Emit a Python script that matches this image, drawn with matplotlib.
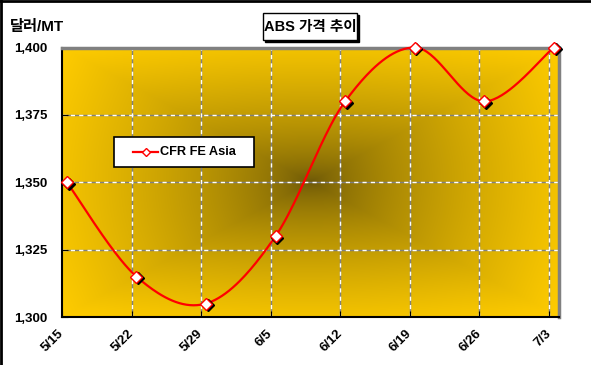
import numpy as np
import matplotlib
matplotlib.use('Agg')
import matplotlib.pyplot as plt
from matplotlib.patches import Rectangle
from matplotlib.lines import Line2D
import matplotlib.transforms as mtransforms

# ---- data ----
dates = ['5/15', '5/22', '5/29', '6/5', '6/12', '6/19', '6/26', '7/3']
prices = [1350, 1315, 1305, 1330, 1380, 1400, 1380, 1400]
series_name = 'CFR FE Asia'
title_text = 'ABS 가격 추이'
y_label = '달러/MT'
y_ticks = [1300, 1325, 1350, 1375, 1400]

W, H = 591, 365
FONT = ['Liberation Sans', 'Noto Sans CJK KR', 'DejaVu Sans']
plt.rcParams['font.family'] = FONT

fig = plt.figure(figsize=(W / 100, H / 100), dpi=100)
fig.patch.set_facecolor('white')


def fx(x):
    return x / W


def fy(y):
    return 1 - y / H


ax = fig.add_axes([fx(62), fy(317), (558.7 - 62) / W, (317 - 47.5) / H])

# background gradient (rectangular "from center")
gh, gw = 300, 500
u = np.linspace(-1, 1, gw)[None, :]
v = np.linspace(-1, 1, gh)[:, None]
t_rect = np.maximum(np.abs(u), np.abs(v))
t_round = np.sqrt(u ** 2 + v ** 2) / np.sqrt(2)
t = np.clip(0.6 * t_rect + 0.4 * t_round, 0, 1) ** 0.65
edge = np.array([255, 204, 0]) / 255
center = np.array([104, 84, 8]) / 255
img = center[None, None, :] * (1 - t[..., None]) + edge[None, None, :] * t[..., None]
ax.imshow(img, extent=(0, 1, 0, 1), transform=ax.transAxes, aspect='auto',
          zorder=0, interpolation='bilinear')

x_offset = 0.07
xs = np.arange(len(dates)) + x_offset
ys = np.array(prices, dtype=float)


def smooth(xv, yv, n=40):
    P = np.column_stack([xv, yv])
    out = []
    for i in range(len(P) - 1):
        p0 = P[i - 1] if i > 0 else P[i]
        p1 = P[i]
        p2 = P[i + 1]
        p3 = P[i + 2] if i + 2 < len(P) else P[i + 1]
        c1 = p1 + (p2 - p0) / 6
        c2 = p2 - (p3 - p1) / 6
        tt = np.linspace(0, 1, n)[:, None]
        seg = (1 - tt) ** 3 * p1 + 3 * (1 - tt) ** 2 * tt * c1 + 3 * (1 - tt) * tt ** 2 * c2 + tt ** 3 * p2
        out.append(seg if i == 0 else seg[1:])
    return np.vstack(out)


curve = smooth(xs, ys)

ax.set_xlim(0, 7.14)
ax.set_ylim(1300, 1400)

# grid lines: gray base with white dashes
for xv in range(1, len(dates)):
    ax.axvline(xv, color='#808080', lw=1, zorder=1)
    ax.axvline(xv, color='white', lw=1, ls=(0, (3, 3)), zorder=1.1)
for yv in y_ticks[1:-1]:
    ax.axhline(yv, color='#808080', lw=1, zorder=1)
    ax.axhline(yv, color='white', lw=1, ls=(0, (3, 3)), zorder=1.1)

ax.plot(curve[:, 0], curve[:, 1], color='red', lw=1.6, zorder=3, clip_on=False)
shadow = ax.transData + mtransforms.ScaledTranslation(1.8 / 100, -1.8 / 100, fig.dpi_scale_trans)
ax.plot(xs, ys, ls='none', marker='D', ms=6.6, mfc='black', mec='black', mew=1,
        transform=shadow, zorder=4, clip_on=False)
ax.plot(xs, ys, ls='none', marker='D', ms=6.6, mfc='white', mec='red', mew=1,
        zorder=5, clip_on=False)

ax.set_xticks(np.arange(len(dates)))
ax.set_xticklabels(dates, rotation=45, ha='right', va='center', rotation_mode='anchor',
                   fontsize=9.5, fontweight='bold')
label_shift = mtransforms.ScaledTranslation(-5 / 100, 0, fig.dpi_scale_trans)
for lbl in ax.get_xticklabels():
    lbl.set_transform(lbl.get_transform() + label_shift)
ax.set_yticks(y_ticks)
ax.set_yticklabels([f'{v:,}' for v in y_ticks], fontsize=9.5, fontweight='bold')
ax.tick_params(axis='x', direction='in', length=4, pad=10.5, color='black')
ax.tick_params(axis='y', direction='in', length=4, pad=10.5, color='black')

for s in ['left', 'bottom']:
    ax.spines[s].set_color('black')
    ax.spines[s].set_linewidth(1.5)
for s in ['top', 'right']:
    ax.spines[s].set_color('#808080')
    ax.spines[s].set_linewidth(2.5)

# y-axis title
fig.text(fx(10), fy(27), y_label, fontsize=11, fontweight='bold', ha='left', va='center')

# chart title box with shadow
tx0, ty0, tx1, ty1 = 263, 13, 357, 40
fig.patches.append(Rectangle((fx(tx0 + 2), fy(ty1 + 2)), (tx1 - tx0) / W, (ty1 - ty0) / H,
                             transform=fig.transFigure, facecolor='black', edgecolor='black', lw=1))
fig.patches.append(Rectangle((fx(tx0), fy(ty1)), (tx1 - tx0) / W, (ty1 - ty0) / H,
                             transform=fig.transFigure, facecolor='white', edgecolor='black', lw=1))
fig.text(fx((tx0 + tx1) / 2), fy((ty0 + ty1) / 2 + 0.5), title_text, fontsize=10.5, fontweight='bold',
         ha='center', va='center')

# legend box
lx0, ly0, lx1, ly1 = 114, 137, 254, 167
fig.patches.append(Rectangle((fx(lx0), fy(ly1)), (lx1 - lx0) / W, (ly1 - ly0) / H,
                             transform=fig.transFigure, facecolor='white', edgecolor='black', lw=1.2,
                             zorder=6))
lyc = (ly0 + ly1) / 2
fig.lines.append(Line2D([fx(133), fx(158)], [fy(lyc), fy(lyc)], transform=fig.transFigure,
                        color='red', lw=1.6, zorder=7))
fig.lines.append(Line2D([fx(145.5)], [fy(lyc)], transform=fig.transFigure, ls='none',
                        marker='D', ms=4.5, mfc='white', mec='red', mew=1, zorder=8))
fig.text(fx(160), fy(lyc), series_name, fontsize=9.2, fontweight='bold', ha='left', va='center', zorder=8)

# outer frame (top and left edges visible)
fig.lines.append(Line2D([fx(1), fx(1)], [0, 1], transform=fig.transFigure, color='black', lw=2))
fig.lines.append(Line2D([0, 1], [fy(0.8), fy(0.8)], transform=fig.transFigure, color='black', lw=2))

fig.savefig('out.png', dpi=100, facecolor='white')
